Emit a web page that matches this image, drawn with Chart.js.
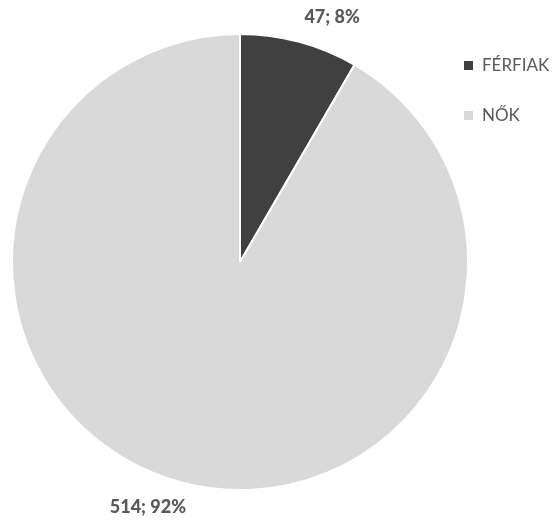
<!DOCTYPE html>
<html>
<head>
<meta charset="utf-8">
<script src="https://cdn.jsdelivr.net/npm/chart.js@4.4.0/dist/chart.umd.min.js"></script>
<style>
  html, body { margin: 0; padding: 0; background: #fff; }
  #wrap { width: 556px; height: 523px; position: relative; }
</style>
</head>
<body>
<div id="wrap"><canvas id="grafikon"></canvas></div>
<script>
var labels = ['FÉRFIAK', 'NŐK'];
var values = [47, 514];
var percents = ['8%', '92%'];
var colors = ['#404040', '#d9d9d9'];

var textColor = '#595959';
var fontFamily = 'Lato, "Open Sans", sans-serif';

// labels outside the slices, like Excel's best fit
var labelPlugin = {
    id: 'sliceLabels',
    afterDatasetsDraw: function (chart) {
        var ctx = chart.ctx;
        var meta = chart.getDatasetMeta(0);
        ctx.save();
        ctx.font = '900 18px ' + fontFamily;
        ctx.fillStyle = textColor;
        ctx.textAlign = 'center';
        ctx.textBaseline = 'middle';
        meta.data.forEach(function (arc, i) {
            var mid = (arc.startAngle + arc.endAngle) / 2 + 0.096;
            var d = arc.outerRadius + 34;
            var x = arc.x + Math.cos(mid) * d;
            var y = arc.y + Math.sin(mid) * d;
            ctx.fillText(values[i] + '; ' + percents[i], x, y);
        });
        ctx.restore();
    }
};

// legend on the right
var legendPlugin = {
    id: 'sideLegend',
    afterDraw: function (chart) {
        var ctx = chart.ctx;
        var x = chart.chartArea.right - 5;
        var y = 65;
        ctx.save();
        ctx.font = '17px ' + fontFamily;
        ctx.textBaseline = 'middle';
        ctx.textAlign = 'left';
        labels.forEach(function (l, i) {
            ctx.fillStyle = colors[i];
            ctx.fillRect(x, y + i * 50 - 4, 9, 9);
            ctx.fillStyle = textColor;
            ctx.fillText(l, x + 18, y + i * 50 + 1);
        });
        ctx.restore();
    }
};

var ctx = document.getElementById('grafikon').getContext('2d');
var chart = new Chart(ctx, {
    type: 'pie',
    data: {
        labels: labels,
        datasets: [{
            data: values,
            backgroundColor: colors,
            borderColor: '#ffffff',
            borderWidth: 2
        }]
    },
    options: {
        responsive: true,
        maintainAspectRatio: false,
        animation: false,
        layout: {
            padding: { left: 11, right: 87, top: 33, bottom: 32 }
        },
        plugins: {
            legend: { display: false },
            tooltip: { enabled: false }
        }
    },
    plugins: [labelPlugin, legendPlugin]
});
</script>
</body>
</html>
